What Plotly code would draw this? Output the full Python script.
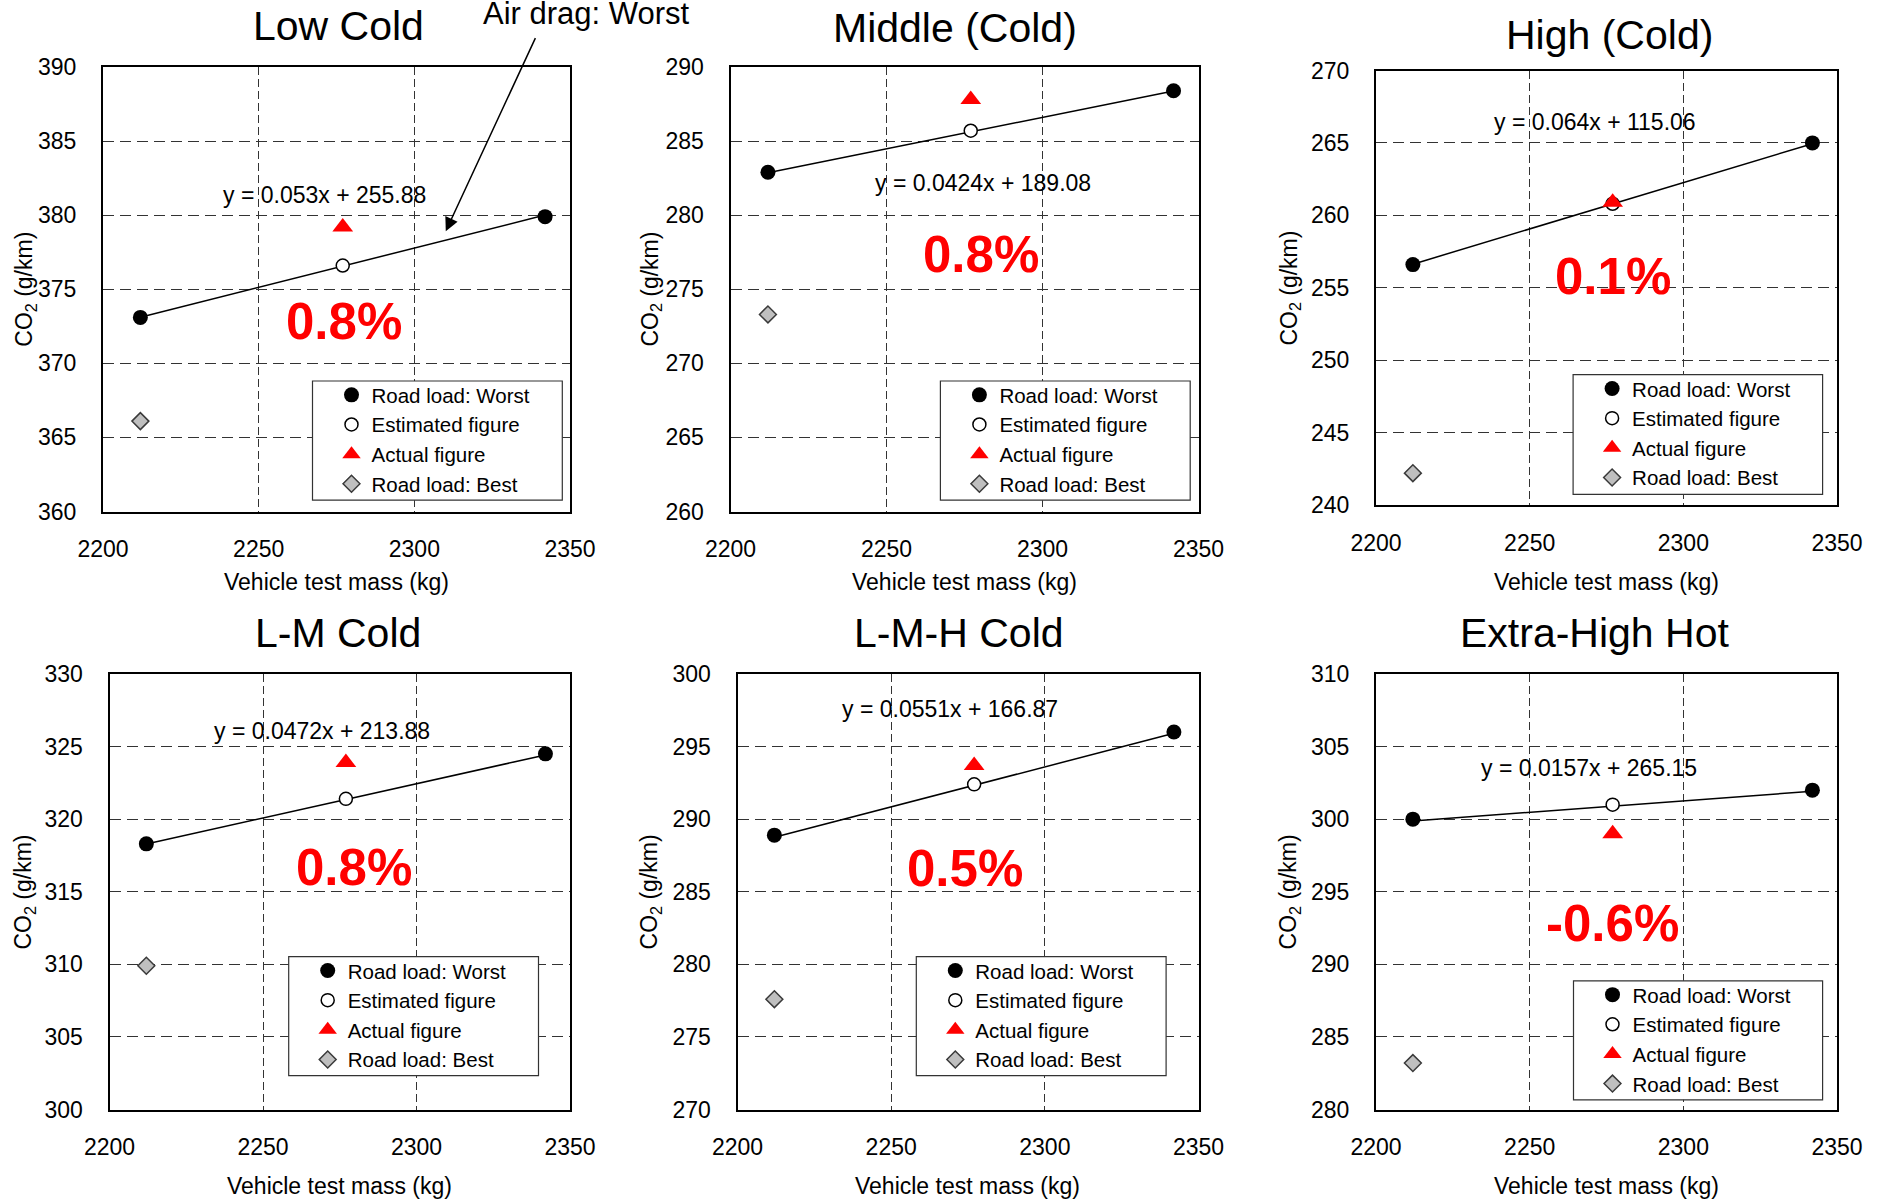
import plotly.graph_objects as go

W, H = 1879, 1200
FONT = "Arial, 'Liberation Sans', sans-serif"

# ---------------- data ----------------
panel_titles = ["Low Cold", "Middle (Cold)", "High (Cold)", "L-M Cold", "L-M-H Cold", "Extra-High Hot"]
y_ranges = [[360, 390], [260, 290], [240, 270], [300, 330], [270, 300], [280, 310]]
x_range = [2200, 2350]
x_ticks = [2200, 2250, 2300, 2350]

mass_worst = [2212, 2342]
mass_estimated = 2277
mass_actual = 2277
mass_best = 2212

co2_worst = [[373.1, 379.9], [282.9, 288.4], [256.6, 265.0],
             [318.3, 324.5], [288.9, 296.0], [300.0, 302.0]]
co2_estimated = [376.6, 285.7, 260.8, 321.4, 292.4, 301.0]
co2_actual = [379.2, 287.8, 260.9, 323.9, 293.7, 299.0]
co2_best = [366.1, 273.3, 242.2, 309.9, 277.6, 283.2]

fit_slope = [0.053, 0.0424, 0.064, 0.0472, 0.0551, 0.0157]
fit_intercept = [255.88, 189.08, 115.06, 213.88, 166.87, 265.15]
change_labels = ["0.8%", "0.8%", "0.1%", "0.8%", "0.5%", "-0.6%"]

series_names = ["Road load: Worst", "Estimated figure", "Actual figure", "Road load: Best"]
x_title = "Vehicle test mass (kg)"
y_title = "CO<sub>2</sub> (g/km)"
arrow_label = "Air drag: Worst"

# ---------------- layout (pixels) ----------------
plot_px = [  # left, right, top, bottom
    (103, 570, 67, 511.5),
    (730.5, 1198.5, 67, 511.5),
    (1376, 1837, 70.5, 505),
    (109.5, 570, 674, 1109.5),
    (737.5, 1198.5, 674, 1109.5),
    (1376, 1837, 674, 1109.5),
]
title_px = [(338, 25.8), (954.7, 27.7), (1609.4, 35.4), (338, 632.5), (958.8, 632.5), (1594.8, 632.5)]
xtitle_y_px = [582.5, 582.5, 582, 1186.3, 1186.3, 1186.3]
ytitle_px = [(24.7, 289), (650.6, 289), (1289.6, 288), (24.7, 891.8), (650.6, 891.8), (1289.6, 891.8)]
legend_box_px = [(312.5, 381, 562.3, 500.2), (940.4, 381, 1190.2, 500.2), (1573.1, 374.7, 1822.6, 494.4),
                 (288.7, 956.7, 538.5, 1075.7), (916.3, 956.7, 1166.1, 1075.7), (1573.5, 980.8, 1822.6, 1099.8)]
eq_pos = [(2271, 381.35), (2281, 282.18), (2271.3, 266.47), (2269.3, 326.08), (2269.2, 297.6), (2269.2, 303.5)]
pct_pos = [(2277.3, 372.8), (2280.4, 277.35), (2277.2, 255.8), (2279.8, 316.7), (2274.1, 286.6), (2276.9, 292.8)]


def px_x(p):
    return p / W


def px_y(p):
    return 1 - p / H


fig = go.Figure()
layout = dict(
    template="none",
    width=W, height=H, autosize=False,
    margin=dict(l=0, r=0, t=0, b=0, pad=0),
    paper_bgcolor="white", plot_bgcolor="white",
    font=dict(family=FONT, color="black"),
    showlegend=True,
)
annotations = []
shapes = []

for i in range(6):
    sfx = "" if i == 0 else str(i + 1)
    xa, ya = "x" + sfx, "y" + sfx
    leg = "legend" + sfx
    l, r, t, b = plot_px[i]

    layout["xaxis" + sfx] = dict(
        domain=[px_x(l), px_x(r)], anchor=ya, range=x_range, tickvals=x_ticks,
        showgrid=True, gridcolor="#333333", gridwidth=1, griddash="8px,4px",
        showline=True, linecolor="black", linewidth=2, mirror=True,
        ticks="", zeroline=False, ticklabelstandoff=16, automargin=False,
        tickfont=dict(size=23, family=FONT, color="black"),
    )
    layout["yaxis" + sfx] = dict(
        domain=[px_y(b), px_y(t)], anchor=xa, range=y_ranges[i], dtick=5, tick0=0,
        showgrid=True, gridcolor="#333333", gridwidth=1, griddash="11px,6px",
        showline=True, linecolor="black", linewidth=2, mirror=True,
        ticks="", zeroline=False, ticklabelstandoff=20, automargin=False,
        tickfont=dict(size=23, family=FONT, color="black"),
    )

    # trend line
    fit_y = [fit_slope[i] * m + fit_intercept[i] for m in mass_worst]
    fig.add_trace(go.Scatter(x=mass_worst, y=fit_y, mode="lines",
                             line=dict(color="black", width=1.5),
                             xaxis=xa, yaxis=ya, showlegend=False, hoverinfo="skip"))
    fig.add_trace(go.Scatter(x=mass_worst, y=co2_worst[i], mode="markers", name=series_names[0],
                             marker=dict(symbol="circle", size=15, color="black"),
                             xaxis=xa, yaxis=ya, legend=leg))
    fig.add_trace(go.Scatter(x=[mass_estimated], y=[co2_estimated[i]], mode="markers", name=series_names[1],
                             marker=dict(symbol="circle", size=13, color="white",
                                         line=dict(color="black", width=1.5)),
                             xaxis=xa, yaxis=ya, legend=leg))
    fig.add_trace(go.Scatter(x=[mass_actual], y=[co2_actual[i]], mode="markers", name=series_names[2],
                             marker=dict(symbol="triangle-up", size=18, color="#ff0000"),
                             xaxis=xa, yaxis=ya, legend=leg))
    fig.add_trace(go.Scatter(x=[mass_best], y=[co2_best[i]], mode="markers", name=series_names[3],
                             marker=dict(symbol="diamond", size=13, color="#bfbfbf",
                                         line=dict(color="#3a3a3a", width=1.5)),
                             xaxis=xa, yaxis=ya, legend=leg))

    # legend box + legend
    bl, bt, br, bb = legend_box_px[i]
    shapes.append(dict(type="rect", xref="paper", yref="paper",
                       x0=px_x(bl), x1=px_x(br), y0=px_y(bb), y1=px_y(bt),
                       fillcolor="white", line=dict(color="#333333", width=1.2), layer="above"))
    layout[leg] = dict(
        x=px_x(bl + 19), y=px_y(bt - 6), xanchor="left", yanchor="top",
        bgcolor="rgba(0,0,0,0)", borderwidth=0,
        font=dict(size=20.5, family=FONT, color="black"), tracegroupgap=0,
        traceorder="normal",
    )

    # titles
    annotations.append(dict(text=panel_titles[i], xref="paper", yref="paper",
                            x=px_x(title_px[i][0]), y=px_y(title_px[i][1]),
                            xanchor="center", yanchor="middle", showarrow=False,
                            font=dict(size=41, family=FONT, color="black")))
    annotations.append(dict(text=x_title, xref="paper", yref="paper",
                            x=px_x((l + r) / 2), y=px_y(xtitle_y_px[i]),
                            xanchor="center", yanchor="middle", showarrow=False,
                            font=dict(size=23, family=FONT, color="black")))
    annotations.append(dict(text=y_title, xref="paper", yref="paper", textangle=-90,
                            x=px_x(ytitle_px[i][0]), y=px_y(ytitle_px[i][1]),
                            xanchor="center", yanchor="middle", showarrow=False,
                            font=dict(size=23, family=FONT, color="black")))
    # equation & percentage
    annotations.append(dict(text=f"y = {fit_slope[i]:g}x + {fit_intercept[i]:.2f}", xref=xa, yref=ya,
                            x=eq_pos[i][0], y=eq_pos[i][1], xanchor="center", yanchor="middle",
                            showarrow=False, font=dict(size=23, family=FONT, color="black")))
    annotations.append(dict(text="<b>" + change_labels[i] + "</b>", xref=xa, yref=ya,
                            x=pct_pos[i][0], y=pct_pos[i][1], xanchor="center", yanchor="middle",
                            showarrow=False, font=dict(size=51, family=FONT, color="#ff0000")))

# Air drag arrow (panel 1)
annotations.append(dict(text="", xref="x", yref="y", x=2310.1, y=378.92,
                        axref="x", ayref="y", ax=2339.1, ay=392.05,
                        showarrow=True, arrowhead=2, arrowsize=1.8, arrowwidth=1.5,
                        arrowcolor="black", standoff=0, startstandoff=0))
annotations.append(dict(text=arrow_label, xref="paper", yref="paper",
                        x=px_x(586), y=px_y(13), xanchor="center", yanchor="middle",
                        showarrow=False, font=dict(size=31, family=FONT, color="black")))

layout["annotations"] = annotations
layout["shapes"] = shapes
fig.update_layout(**layout)
fig.write_html("out.html", config={"displayModeBar": False},
               post_script="document.body.style.margin='0';document.body.style.overflow='hidden';")
